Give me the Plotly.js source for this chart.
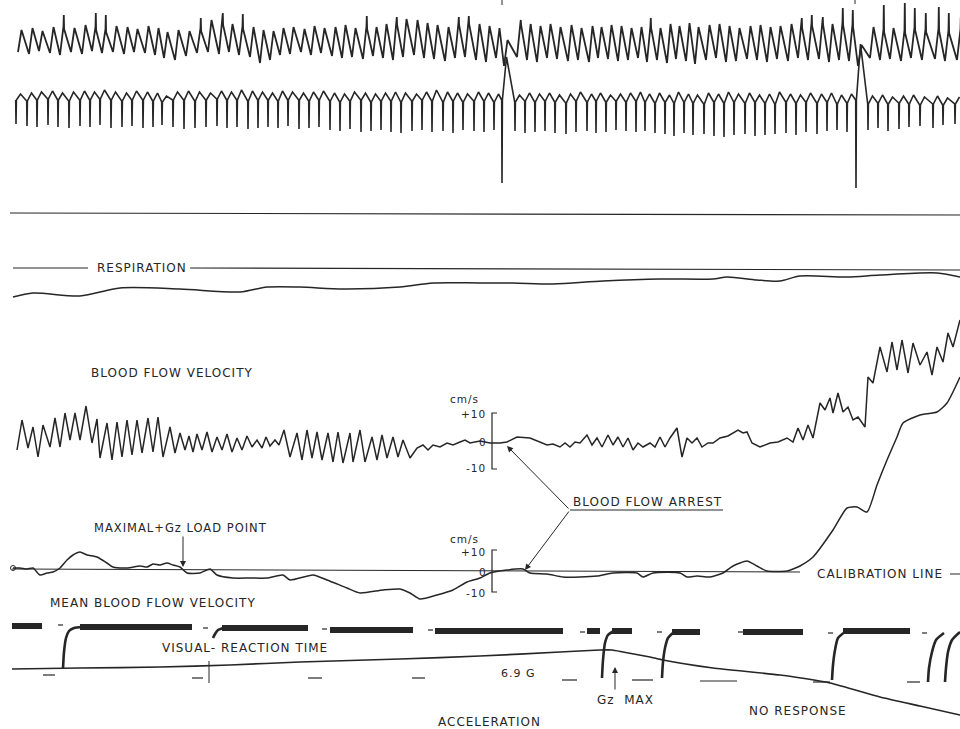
<!DOCTYPE html>
<html><head><meta charset="utf-8">
<script src="https://cdn.plot.ly/plotly-3.0.1.min.js"></script>
<style>
html,body{margin:0;padding:0;background:#fff;}
#chart{width:960px;height:729px;}
.annotation-text{letter-spacing:1px;}
</style></head><body><div id="chart"></div>
<script>
// ---------- ECG: beat positions (shared by both leads) ----------
const beatX=[16,27,37,48,58,69,80,90,100,111,122,132,143,153,162,173,184,195,206,217,227,237,248,258,268,278,288,299,309,319,
330,340,350,361,371,381,391,401,412,422,432,443,453,463,474,484,494,502,515,525,535,545,555,566,576,587,596,606,616,626,636,
645,655,665,674,684,693,704,714,724,734,745,755,765,775,786,796,806,817,827,837,847,856,868,878,888,899,909,920,933,943,955];
// top lead
const topPeak=[30,28,31,27,26,28,25,27,29,26, 27,29,26,28,32,30,31,28,20,22, 24,26,27,30,31,28,27,29,26,28,
27,25,28,26,27,24,22,19,20,23, 25,27,22,21,24,26,28,40,22,25, 26,24,27,25,28,26,27,25,26,28,
27,25,28,24,26,23,27,25,24,26, 28,26,25,27,26,24,25,23,22,24, 22,24,45,27,29,28,30,27,29,28, 30,29];
const topTrough=[52,54,51,53,55,52,54,51,53,52, 54,52,53,55,58,60,56,53,52,54, 52,55,57,63,60,55,54,52,55,53,
56,58,57,59,56,58,60,57,55,58, 59,61,58,57,60,62,58,66,57,60, 62,58,59,61,60,62,58,59,61,60,
58,62,60,63,59,61,64,60,58,62, 61,59,60,62,59,61,58,60,59,62, 60,61,66,58,60,59,61,58,60,59, 61,60];
const topSpike=[0,0,0,0,15,0,0,13,15,0, 0,0,0,0,0,0,0,18,0,13, 0,14,0,0,0,0,0,0,0,0,
0,0,0,16,0,0,17,0,0,0, 0,0,17,16,0,0,0,0,20,24, 0,0,0,0,0,0,0,0,0,0,
0,18,0,0,0,0,0,0,0,0, 0,0,0,0,0,0,18,15,17,0, 8,10,0,0,5,0,3,8,13,7, 13,17];
// bottom lead
const botSpike=[124,126,127,125,127,128,126,127,125,128,127,126,128,127,125,127,129,128,127,126,128,127,129,128,127,128,126,129,128,127,
130,131,129,132,131,130,132,133,131,130,132,131,133,130,131,132,130,183,131,133,132,131,133,134,132,131,133,132,130,131,132,
131,133,134,136,133,135,134,136,137,135,134,136,135,134,133,135,132,134,131,130,132,188,130,128,131,129,127,126,128,125,124];
const botHump=[94,93,92,91,93,92,91,92,90,92, 93,91,92,93,96,92,91,92,93,91, 92,90,91,92,93,91,92,93,92,91,
93,94,92,93,94,93,92,93,94,92, 90,92,93,94,92,93,94,57,95,93, 94,93,95,94,92,94,93,95,94,93,
92,94,93,95,92,94,95,93,94,92, 94,93,95,94,92,94,95,93,94,93, 95,94,44,96,95,97,96,95,97,96, 98,97];
const botBase=[100,101,100,99,100,101,100,100,99,100,101,100,100,101,102,100,100,101,100,99,100,100,101,100,100,101,100,100,101,100,
101,102,101,100,102,101,101,102,101,100,101,102,101,102,101,101,102,100,102,101,102,101,102,103,101,102,101,102,101,102,101,
102,103,102,103,102,103,104,102,103,102,103,102,103,104,102,103,102,103,102,104,103,100,104,103,104,103,104,105,104,105,104];
const topTickX=[502,855], topTickY=[5,4];

// ---------- straight reference lines ----------
const hLineX=[10,960], hLineY=[213,215];
const respLineX=[13,88,null,190,960], respLineY=[268,268,null,268,270];

// ---------- respiration ----------
const respX=[13,33,80,120,180,240,267,300,343,400,433,480,513,553,603,660,713,727,757,780,800,847,880,937,960];
const respY=[297,293,296,288,289,292,287,287,289,287,283,283,283,284,281,279,279,277,280,281,276,277,275,273,277];

// ---------- blood flow velocity ----------
const bfvX=[17,22,28,33,38,43,50,55,60,65,70,75,80,86,92,97,100,107,112,117,122,127,132,137,142,148,153,158,163,170,175,180,
185,189,193,197,202,207,212,217,222,227,232,237,242,247,252,257,262,266,270,275,279,284,
290,297,302,307,312,317,322,328,333,338,343,350,353,360,365,372,377,382,387,393,398,403,410,
417,423,428,433,440,447,453,460,465,470,480,
490,500,507,517,530,540,547,553,560,565,570,575,580,587,592,597,602,608,613,618,623,628,633,638,643,650,655,660,665,670,677,682,687,692,697,702,708,713,720,728,733,738,743,747,752,760,770,778,787,793,798,803,808,813,
820,825,830,833,838,843,848,853,858,865,868,873,880,887,892,897,902,908,913,920,927,932,937,943,948,953,960];
const bfvY=[450,420,448,427,457,425,447,418,447,413,440,413,440,406,443,419,458,423,460,422,457,420,455,420,453,418,452,417,457,427,453,433,
450,436,452,434,450,432,452,437,450,434,452,438,450,436,447,440,448,437,446,440,445,430,
457,433,460,430,458,432,460,433,462,432,463,433,462,430,462,437,460,435,458,437,457,440,458,
448,445,450,445,447,443,445,442,440,443,441,
443,443,442,437,438,442,445,444,447,443,447,442,443,435,445,438,447,435,445,437,447,438,450,443,447,443,447,437,447,438,428,457,438,443,438,447,443,443,438,436,433,430,433,432,443,447,443,442,438,442,428,440,425,438,
403,410,398,413,393,412,407,420,417,427,377,383,347,372,342,370,340,373,343,365,352,375,347,362,333,347,320];

// ---------- mean blood flow velocity ----------
const mbfvX=[13,20,27,33,40,47,53,60,67,73,80,87,97,107,113,127,140,147,153,160,167,173,180,187,200,210,217,233,250,267,283,290,313,327,347,360,383,400,410,420,437,453,467,480,
490,507,523,530,547,563,580,597,613,637,643,653,680,687,697,710,723,733,747,757,767,787,793,800,813,833,847,857,867,877,887,897,903,920,937,947,960];
const mbfvY=[568,568,569,568,575,573,572,568,560,555,552,555,557,563,567,568,566,567,564,565,563,565,567,573,573,569,575,578,578,578,575,580,575,580,588,593,590,589,593,599,595,590,582,578,
573,570,569,573,574,577,577,576,573,573,577,573,573,577,576,577,573,566,561,566,571,571,569,566,557,530,508,507,512,485,460,437,423,415,412,403,377];
const calLineX=[12,800,null,950,960], calLineY=[569,572,null,574,574];

// ---------- calibration brackets ----------
const brUpX=[497,492,492,497], brUpY=[413,413,469,469];
const brLoX=[497,492,492,497], brLoY=[550,550,592,592];
const arrestLineX=[570,723], arrestLineY=[510,510];

// ---------- visual reaction time ----------
const barX0=[12,80,222,330,435,587,612,672,743,843];
const barX1=[42,192,308,413,563,600,632,700,803,910];
const barY=[626,627,628,630,631,631,631,632,632,631];
const rises=[
 {x:[63,64,66,69,74,82], y:[669,652,638,631,628,627]},
 {x:[213,215,218,224], y:[638,634,630,628]},
 {x:[602,603,605,608,614], y:[678,660,643,635,631]},
 {x:[662,663,665,668,674], y:[678,662,648,638,632]},
 {x:[832,833,835,838,845], y:[680,665,650,638,632]},
 {x:[928,929,932,936,944], y:[682,668,652,640,633]},
 {x:[945,946,948,952,960], y:[682,668,652,640,632]}
];
const tdX0=[58,203,322,428,580,657,738,828,922], tdX1=[63,208,327,433,585,662,743,833,927];
const tdY=[625,628,629,630,632,632,632,633,633];
const bdX0=[43,192,308,412,562,632,700,813,907], bdX1=[55,203,322,425,577,653,737,830,920];
const bdY=[675,678,678,678,680,680,681,682,682];

// ---------- acceleration ----------
const accX=[12,80,160,230,300,400,480,560,600,612,623,650,663,713,780,830,880,920,960];
const accY=[669,668,667,665,662,659,656,652,650,650,652,657,660,668,675,683,697,706,715];
const accTickX=[209,209], accTickY=[661,683];

// ================= build =================
const ink='#262626';
const traces=[];
function add(x,y,w,opt){traces.push(Object.assign({type:'scatter',mode:'lines',x:x,y:y,line:{color:ink,width:w},hoverinfo:'skip',showlegend:false,connectgaps:false},opt||{}));}
function segs(x0,x1,y0,y1){const X=[],Y=[];for(let i=0;i<x0.length;i++){X.push(x0[i],x1[i],null);Y.push(y0[i],(y1||y0)[i],null);}return [X,Y];}

// ECG top
{const X=[],Y=[];
 for(let i=0;i<beatX.length;i++){const b=beatX[i];
  X.push(b+2);Y.push(topTrough[i]);
  X.push(b+5.5);Y.push(topPeak[i]);
  if(topSpike[i]>0){X.push(b+5.8,b+6.1);Y.push(topSpike[i],topPeak[i]+3);}
 }
 add(X,Y,1.8);}
// ECG bottom
{const X=[],Y=[];
 for(let i=0;i<beatX.length;i++){const b=beatX[i];
  X.push(b-0.3,b,b+0.4,b+4.5);Y.push(botBase[i],botSpike[i],botBase[i],botHump[i]);
 }
 add(X,Y,1.6);}
{const s=segs(topTickX,topTickX,topTickX.map(()=>0),topTickY);add(s[0],s[1],1);}
add(hLineX,hLineY,1.2);
add(respLineX,respLineY,1.2);
add(respX,respY,1.5,{line:{color:ink,width:1.5,shape:'spline',smoothing:0.8}});
add(bfvX,bfvY,1.5);
add(brUpX,brUpY,1.2);add(brLoX,brLoY,1.2);
add(calLineX,calLineY,1.0);
add(mbfvX,mbfvY,1.5,{line:{color:ink,width:1.5,shape:'spline',smoothing:0.6}});
traces.push({type:'scatter',mode:'markers',x:[mbfvX[0]],y:[mbfvY[0]],marker:{symbol:'circle-open',size:5,color:ink,line:{width:1}},hoverinfo:'skip',showlegend:false});
add(arrestLineX,arrestLineY,1.0);
{const s=segs(barX0,barX1,barY);add(s[0],s[1],6);}
rises.forEach(r=>add(r.x,r.y,2.6,{line:{color:ink,width:2.6,shape:'spline',smoothing:0.7}}));
{const s=segs(tdX0,tdX1,tdY);add(s[0],s[1],1.2);}
{const s=segs(bdX0,bdX1,bdY);add(s[0],s[1],1.2);}
add(accX,accY,1.7,{line:{color:ink,width:1.7,shape:'spline',smoothing:0.5}});
add(accTickX,accTickY,1.0);

const F='DejaVu Sans, Arial, sans-serif';
function lab(t,x,y,size,xa){return {text:t,x:x,y:y,xref:'x',yref:'y',showarrow:false,xanchor:xa||'center',yanchor:'middle',font:{family:F,size:size||12,color:ink}};}
function arr(x,y,ax,ay){return {text:'',x:x,y:y,ax:ax,ay:ay,xref:'x',yref:'y',axref:'x',ayref:'y',showarrow:true,arrowhead:2,arrowsize:1.2,arrowwidth:1,arrowcolor:ink,standoff:0};}
const annotations=[
 lab('RESPIRATION',142,268,12),
 lab('BLOOD FLOW VELOCITY',172,373,12),
 lab('cm/s',481,399,10.5,'right'),
 lab('+10',488,414,10.5,'right'),
 lab('0',489,442,10.5,'right'),
 lab('-10',488,468,10.5,'right'),
 lab('cm/s',481,539,10.5,'right'),
 lab('+10',488,552,10.5,'right'),
 lab('0',489,572,10.5,'right'),
 lab('-10',488,593,10.5,'right'),
 lab('BLOOD FLOW ARREST',647,502,12),
 lab('MAXIMAL+Gz LOAD POINT',180,528,11.5),
 lab('MEAN BLOOD FLOW VELOCITY',153,603,12),
 lab('CALIBRATION LINE',880,574,12),
 lab('VISUAL- REACTION TIME',245,648,12),
 lab('6.9 G',518,673,11),
 lab('Gz  MAX',625,700,12),
 lab('NO RESPONSE',798,711,12),
 lab('ACCELERATION',489,722,12),
 arr(507,446,570,510),
 arr(525,570,570,510),
 arr(183,567,183,535),
 arr(615,667,615,691)
];

const layout={width:960,height:729,margin:{l:0,r:0,t:0,b:0,pad:0},paper_bgcolor:'#ffffff',plot_bgcolor:'#ffffff',
 xaxis:{range:[0,960],visible:false,fixedrange:true},
 yaxis:{range:[729,0],visible:false,fixedrange:true},
 showlegend:false,annotations:annotations};
Plotly.newPlot('chart',traces,layout,{staticPlot:true,displayModeBar:false});
</script></body></html>
